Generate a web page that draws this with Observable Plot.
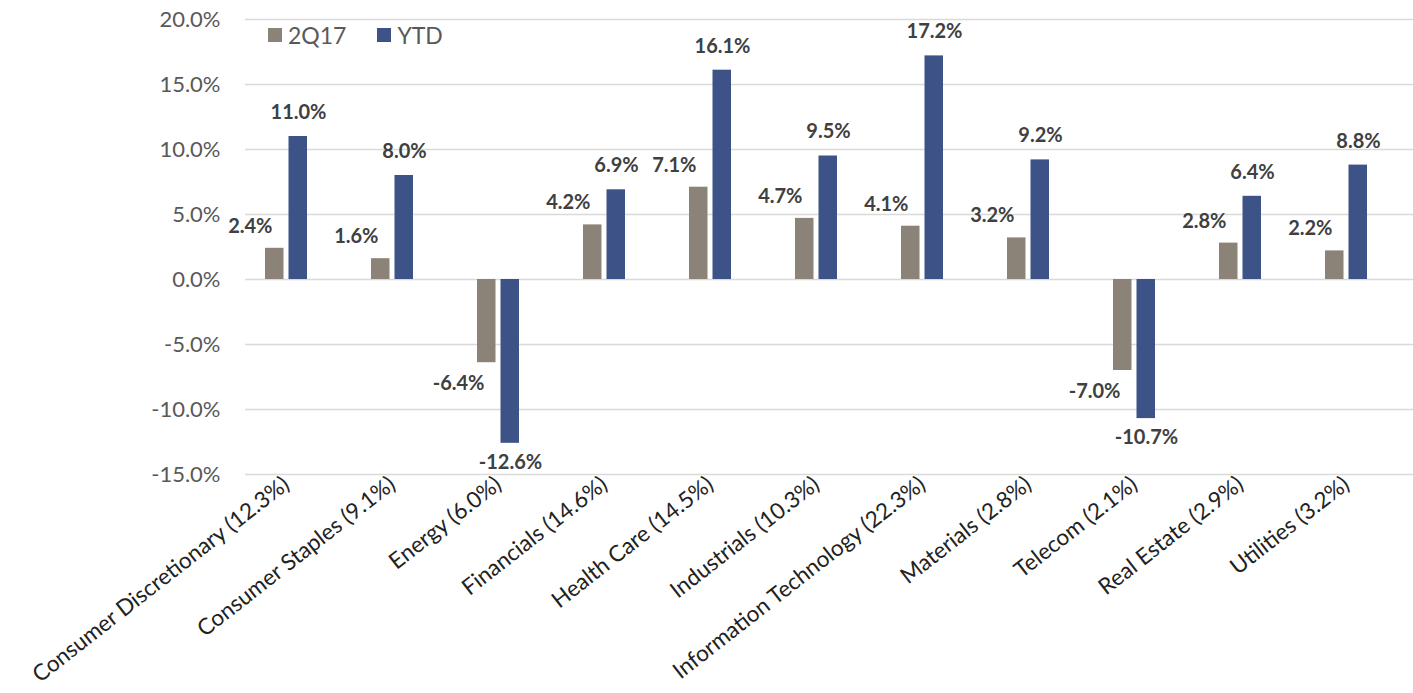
<!DOCTYPE html>
<html>
<head>
<meta charset="utf-8">
<script src="https://cdn.jsdelivr.net/npm/d3@7"></script>
<script src="https://cdn.jsdelivr.net/npm/@observablehq/plot@0.6"></script>
<style>
  html, body { margin: 0; padding: 0; background: #fff; }
  #wrap { position: relative; width: 1413px; height: 693px; font-family: Lato, "Open Sans", sans-serif; }
  #legend { position: absolute; left: 268px; top: 21px; display: flex; align-items: center; font-size: 23px; color: #595959; }
  .sw { display: inline-block; width: 14px; height: 14px; margin-right: 6px; }
  .item { display: flex; align-items: center; margin-right: 31px; }
</style>
</head>
<body>
<div id="wrap"><div id="chart"></div>
<div id="legend"></div>
</div>
<script>
const categories = [
  "Consumer Discretionary (12.3%)",
  "Consumer Staples (9.1%)",
  "Energy (6.0%)",
  "Financials (14.6%)",
  "Health Care (14.5%)",
  "Industrials (10.3%)",
  "Information Technology (22.3%)",
  "Materials (2.8%)",
  "Telecom (2.1%)",
  "Real Estate (2.9%)",
  "Utilities (3.2%)"
];
const q2Values  = [2.4, 1.6, -6.4, 4.2, 7.1, 4.7, 4.1, 3.2, -7.0, 2.8, 2.2];
const ytdValues = [11.0, 8.0, -12.6, 6.9, 16.1, 9.5, 17.2, 9.2, -10.7, 6.4, 8.8];
const yTicks = [-15, -10, -5, 0, 5, 10, 15, 20];
const seriesNames = ["2Q17", "YTD"];
const seriesColors = ["#8b8378", "#3d5287"];

const rows = categories.map((c, i) => ({category: c, q2: q2Values[i], ytd: ytdValues[i]}));
const fmt = v => v.toFixed(1) + "%";
const labelFont = {fontSize: 20, fontWeight: "bold", fill: "#404040"};

const chart = Plot.plot({
  width: 1413,
  height: 693,
  marginTop: 19,
  marginBottom: 219,
  marginLeft: 245,
  marginRight: 0,
  style: {fontFamily: "Lato, 'Open Sans', sans-serif", background: "#fff"},
  x: {domain: categories, range: [233, 1399], padding: 0},
  y: {domain: [-15, 20]},
  marks: [
    Plot.ruleY(yTicks, {stroke: "#d9d9d9", strokeWidth: 1.5}),
    Plot.axisY({ticks: yTicks, tickSize: 0, tickPadding: 25, tickFormat: fmt, fontSize: 22, fill: "#595959", label: null}),
    Plot.axisX({tickSize: 0, tickPadding: 7, tickRotate: -38, fontSize: 22.5, fill: "#222", label: null}),
    Plot.barY(rows, {x: "category", y: "q2", fill: seriesColors[0], insetLeft: 32, insetRight: 55.5}),
    Plot.barY(rows, {x: "category", y: "ytd", fill: seriesColors[1], insetLeft: 55.5, insetRight: 32}),
    Plot.text(rows.filter(d => d.q2 >= 0), {x: "category", y: "q2", text: d => fmt(d.q2), dx: -14, dy: -22, textAnchor: "end", lineAnchor: "middle", ...labelFont}),
    Plot.text(rows.filter(d => d.q2 < 0), {x: "category", y: "q2", text: d => fmt(d.q2), dx: -14, dy: 21, textAnchor: "end", lineAnchor: "middle", ...labelFont}),
    Plot.text(rows.filter(d => d.ytd >= 0), {x: "category", y: "ytd", text: d => fmt(d.ytd), dx: 12, dy: -24, textAnchor: "middle", lineAnchor: "middle", ...labelFont}),
    Plot.text(rows.filter(d => d.ytd < 0), {x: "category", y: "ytd", text: d => fmt(d.ytd), dx: 12, dy: 19, textAnchor: "middle", lineAnchor: "middle", ...labelFont})
  ]
});
document.getElementById("chart").appendChild(chart);

const legend = document.getElementById("legend");
seriesNames.forEach((name, i) => {
  const item = document.createElement("span");
  item.className = "item";
  const sw = document.createElement("span");
  sw.className = "sw";
  sw.style.background = seriesColors[i];
  item.appendChild(sw);
  item.appendChild(document.createTextNode(name));
  legend.appendChild(item);
});
</script>
</body>
</html>
